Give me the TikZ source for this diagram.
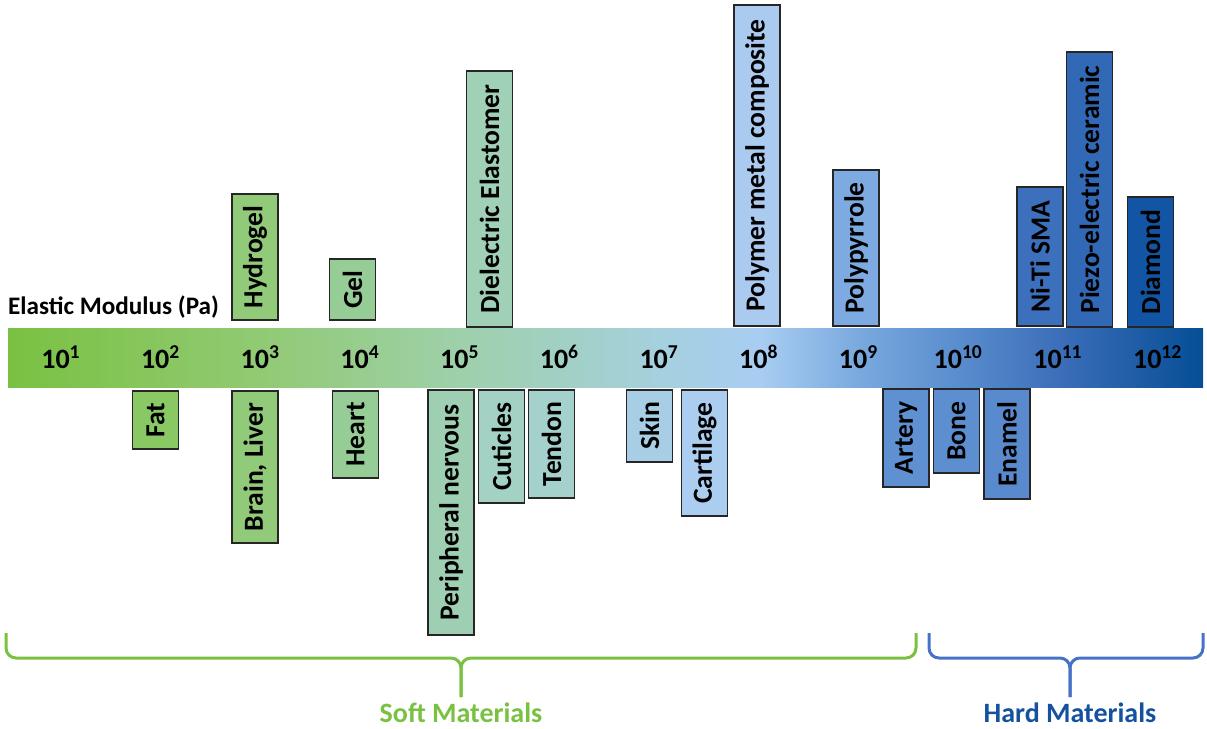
\documentclass[tikz,border=0pt]{standalone}
\usepackage{fontspec}
\setmainfont{Carlito}
\definecolor{softgreen}{RGB}{122,193,66}
\definecolor{hardblue}{RGB}{20,82,160}
\definecolor{hardline}{RGB}{70,115,200}
\definecolor{barA}{RGB}{145,202,115}
\definecolor{barB}{RGB}{158,208,170}
\definecolor{barC}{RGB}{165,208,222}
\definecolor{barD}{RGB}{168,205,242}
\definecolor{barE}{RGB}{120,168,222}
\definecolor{barF}{RGB}{88,140,205}
\definecolor{barG}{RGB}{60,110,185}
\definecolor{barH}{RGB}{5,78,150}
\pgfdeclarehorizontalshading{modulusbar}{100bp}{
  color(0bp)=(softgreen);
  color(25bp)=(softgreen);
  color(35.5bp)=(barA);
  color(43.9bp)=(barB);
  color(52.3bp)=(barC);
  color(56.5bp)=(barD);
  color(60.7bp)=(barE);
  color(64.9bp)=(barF);
  color(69bp)=(barG);
  color(75bp)=(barH);
  color(100bp)=(barH)}
\tikzset{
  mbox/.style={draw=black!85, line width=0.9pt, rotate=90, inner sep=0pt,
    minimum height=23pt, font=\fontsize{13.8}{15}\selectfont\bfseries},
  ticklab/.style={font=\fontsize{14}{15}\selectfont\bfseries},
  brace/.style={line width=1.5pt, rounded corners=5pt}
}
\begin{document}
\begin{tikzpicture}[x=0.5pt,y=-0.5pt]
				\useasboundingbox (0,0) rectangle (1207,729);

				\shade[shading=modulusbar] (8,328) rectangle (1203,387);
				\foreach \i in {1,...,12}
					\node[ticklab] (tick\i) at ({61+99.7*(\i-1)},357) {10\textsuperscript{\i}};
				\node[anchor=base east, font=\fontsize{12.6}{14}\selectfont\bfseries] (modulus) at (226,314) {Elastic Modulus (Pa)};

				% above the bar
				\node[mbox, fill={rgb,255:red,145;green,202;blue,120}, minimum width=63pt] (hydrogel) at (255,257) {Hydrogel};
				\node[mbox, fill={rgb,255:red,150;green,205;blue,150}, minimum width=30.5pt] (gel) at (352.5,289.5) {Gel};
				\node[mbox, fill={rgb,255:red,160;green,208;blue,182}, minimum width=128pt] (dielectric) at (489.5,199) {Dielectric Elastomer};
				\node[mbox, fill={rgb,255:red,170;green,202;blue,240}, minimum width=160.5pt] (polymer) at (757,165.5) {Polymer metal composite};
				\node[mbox, fill={rgb,255:red,125;green,170;blue,225}, minimum width=78pt] (polypyrrole) at (856,248) {Polypyrrole};
				\node[mbox, fill={rgb,255:red,60;green,112;blue,188}, minimum width=69.5pt] (niti) at (1040,256.5) {Ni-Ti SMA};
				\node[mbox, fill={rgb,255:red,50;green,105;blue,182}, minimum width=137.5pt] (piezo) at (1089.5,189.5) {Piezo-electric ceramic};
				\node[mbox, fill={rgb,255:red,18;green,85;blue,165}, minimum width=65pt] (diamond) at (1150.5,262) {Diamond};

				% below the bar
				\node[mbox, fill={rgb,255:red,138;green,200;blue,100}, minimum width=29pt] (fat) at (155.5,420) {Fat};
				\node[mbox, fill={rgb,255:red,145;green,202;blue,120}, minimum width=76pt] (brain) at (255,467) {Brain, Liver};
				\node[mbox, fill={rgb,255:red,150;green,205;blue,150}, minimum width=43.5pt] (heart) at (355.5,434.5) {Heart};
				\node[mbox, fill={rgb,255:red,158;green,207;blue,178}, minimum width=122.5pt] (peripheral) at (451,512.5) {Peripheral nervous};
				\node[mbox, fill={rgb,255:red,163;green,209;blue,195}, minimum width=56.5pt] (cuticles) at (501.5,446.5) {Cuticles};
				\node[mbox, fill={rgb,255:red,165;green,209;blue,205}, minimum width=54pt] (tendon) at (551.5,444) {Tendon};
				\node[mbox, fill={rgb,255:red,168;green,206;blue,230}, minimum width=36pt] (skin) at (649.5,426) {Skin};
				\node[mbox, fill={rgb,255:red,170;green,205;blue,240}, minimum width=63pt] (cartilage) at (704.5,453) {Cartilage};
				\node[mbox, fill={rgb,255:red,95;green,145;blue,210}, minimum width=49pt] (artery) at (906,438) {Artery};
				\node[mbox, fill={rgb,255:red,92;green,142;blue,208}, minimum width=42pt] (bone) at (956.5,431) {Bone};
				\node[mbox, fill={rgb,255:red,88;green,138;blue,205}, minimum width=55pt] (enamel) at (1007,444) {Enamel};

				% braces
				\coordinate (softtip) at (461,697);
				\coordinate (hardtip) at (1070,697);
				\draw[brace, softgreen] (6,633) -- (6,658) -- (461,658) -- (softtip);
				\draw[brace, softgreen] (916,633) -- (916,658) -- (461,658) -- (softtip);
				\draw[brace, hardline] (929,633) -- (929,658) -- (1070,658) -- (hardtip);
				\draw[brace, hardline] (1203,633) -- (1203,658) -- (1070,658) -- (hardtip);
				\node[text=softgreen, font=\fontsize{14}{15}\selectfont\bfseries] (soft) at (461,713) {Soft Materials};
				\node[text=hardblue, font=\fontsize{14}{15}\selectfont\bfseries] (hard) at (1070,713) {Hard Materials};
			\end{tikzpicture}
\end{document}
